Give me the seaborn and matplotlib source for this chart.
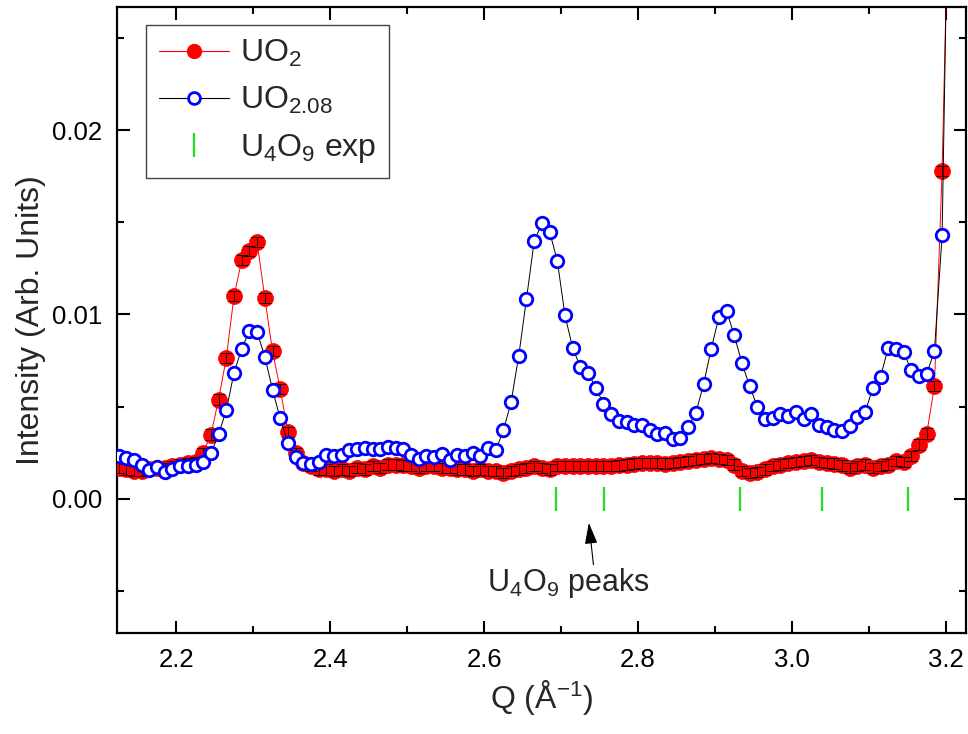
import numpy as np
import matplotlib
matplotlib.use("Agg")
import matplotlib.pyplot as plt
import seaborn as sns
from matplotlib.lines import Line2D
from matplotlib.ticker import MultipleLocator, FormatStrFormatter

# ---------------- data ----------------
q = [2.125, 2.135, 2.145, 2.155, 2.165, 2.175, 2.185, 2.195, 2.205, 2.215,
     2.225, 2.235, 2.245, 2.255, 2.265, 2.275, 2.285, 2.295, 2.305, 2.315,
     2.325, 2.335, 2.345, 2.355, 2.365, 2.375, 2.385, 2.395, 2.405, 2.415,
     2.425, 2.435, 2.445, 2.455, 2.465, 2.475, 2.485, 2.495, 2.505, 2.515,
     2.525, 2.535, 2.545, 2.555, 2.565, 2.575, 2.585, 2.595, 2.605, 2.615,
     2.625, 2.635, 2.645, 2.655, 2.665, 2.675, 2.685, 2.695, 2.705, 2.715,
     2.725, 2.735, 2.745, 2.755, 2.765, 2.775, 2.785, 2.795, 2.805, 2.815,
     2.825, 2.835, 2.845, 2.855, 2.865, 2.875, 2.885, 2.895, 2.905, 2.915,
     2.925, 2.935, 2.945, 2.955, 2.965, 2.975, 2.985, 2.995, 3.005, 3.015,
     3.025, 3.035, 3.045, 3.055, 3.065, 3.075, 3.085, 3.095, 3.105, 3.115,
     3.125, 3.135, 3.145, 3.155, 3.165, 3.175, 3.185, 3.195, 3.205]

uo2 = [0.00167, 0.00158, 0.00149, 0.00149, 0.00158, 0.00167, 0.00167, 0.00176, 0.00185, 0.00194,
       0.0020, 0.00248, 0.00348, 0.00538, 0.00765, 0.0110, 0.01295, 0.01344, 0.01393, 0.0109,
       0.0080, 0.00596, 0.00362, 0.00245, 0.00194, 0.00176, 0.00158, 0.00158, 0.00149, 0.00158,
       0.00149, 0.00167, 0.00158, 0.00176, 0.00167, 0.00185, 0.00185, 0.0018, 0.00176, 0.00167,
       0.00176, 0.00176, 0.00167, 0.00167, 0.00158, 0.00158, 0.00149, 0.00158, 0.00149, 0.00149,
       0.0014, 0.00149, 0.00158, 0.00167, 0.00176, 0.00167, 0.00158, 0.00176, 0.00176, 0.00176,
       0.00176, 0.00176, 0.00176, 0.00176, 0.00176, 0.0018, 0.00185, 0.0019, 0.00194, 0.00194,
       0.00194, 0.0019, 0.00194, 0.00199, 0.00205, 0.00212, 0.00216, 0.00221, 0.00216, 0.00208,
       0.00185, 0.00149, 0.0014, 0.00143, 0.00158, 0.00176, 0.00185, 0.00194, 0.00199, 0.00203,
       0.00208, 0.00199, 0.00194, 0.0019, 0.0018, 0.00167, 0.00176, 0.00185, 0.00167, 0.00176,
       0.00185, 0.00203, 0.00199, 0.0023, 0.00293, 0.00353, 0.0061, 0.0178, 0.036]

uo2_err = 0.00028

uo208 = [0.0023, 0.00221, 0.00208, 0.00181, 0.00154, 0.0017, 0.00143, 0.00161, 0.00176, 0.00176,
         0.00181, 0.0020, 0.00245, 0.00351, 0.0048, 0.00683, 0.00815, 0.0091, 0.00904, 0.0077,
         0.00592, 0.00435, 0.00303, 0.00227, 0.00194, 0.00189, 0.0020, 0.00239, 0.0023, 0.00239,
         0.00266, 0.0027, 0.00275, 0.0027, 0.0027, 0.00281, 0.00275, 0.00268, 0.00239, 0.00216,
         0.00234, 0.00225, 0.00243, 0.00207, 0.00239, 0.00234, 0.00245, 0.0023, 0.00275, 0.00262,
         0.0037, 0.00524, 0.00777, 0.01085, 0.01398, 0.01495, 0.01449, 0.01293, 0.00995, 0.00819,
         0.00714, 0.00683, 0.00602, 0.00516, 0.00457, 0.0042, 0.00415, 0.00402, 0.00397, 0.00375,
         0.00351, 0.00357, 0.00324, 0.00327, 0.00389, 0.00464, 0.0062, 0.00813, 0.00986, 0.01018,
         0.00886, 0.00734, 0.0061, 0.00498, 0.00433, 0.00438, 0.00457, 0.00447, 0.00469, 0.00433,
         0.00462, 0.00397, 0.0039, 0.00371, 0.00366, 0.00393, 0.00444, 0.00469, 0.00602, 0.00661,
         0.00819, 0.0081, 0.00795, 0.00697, 0.00665, 0.00679, 0.008, 0.01429, 0.039]

u4o9_q = [2.693, 2.756, 2.932, 3.039, 3.151]
u4o9_y = [0.0, 0.0, 0.0, 0.0, 0.0]

x_ticks = [2.2, 2.4, 2.6, 2.8, 3.0, 3.2]
y_ticks = [0.00, 0.01, 0.02]

# ---------------- style ----------------
sns.set_style("ticks")
plt.rcParams["font.family"] = ["Liberation Sans", "DejaVu Sans"]
plt.rcParams["mathtext.fontset"] = "custom"
plt.rcParams["mathtext.rm"] = "Liberation Sans"
plt.rcParams["mathtext.it"] = "Liberation Sans:italic"
plt.rcParams["mathtext.bf"] = "Liberation Sans:bold"

fig = plt.figure(figsize=(9.68, 7.34), dpi=100)
ax = fig.add_axes([0.1209, 0.1376, 0.877, 0.8529])

# UO2: red filled circles, thin red line, black error bars
sns.lineplot(x=q, y=uo2, ax=ax, color="red", linewidth=0.7, marker="o",
             markersize=11.5, markeredgecolor="red", markeredgewidth=0.5,
             markerfacecolor="red", sort=False, estimator=None, zorder=3)
ax.errorbar(q, uo2, yerr=uo2_err, fmt="none", ecolor="black",
            elinewidth=0.6, capsize=4.5, capthick=0.6, zorder=4)

# UO2.08: blue open circles, thin black line
sns.lineplot(x=q, y=uo208, ax=ax, color="black", linewidth=0.7, marker="o",
             markersize=9, markeredgecolor="#0000ff", markeredgewidth=2.0,
             markerfacecolor="white", sort=False, estimator=None, zorder=5)

# U4O9 experimental peak positions
ax.plot(u4o9_q, u4o9_y, linestyle="none", marker="|", markersize=17,
        markeredgewidth=1.6, color="#22dd22", zorder=2)

# axes
ax.set_xlim(2.123, 3.226)
ax.set_ylim(-0.0073, 0.0267)
ax.set_xticks(x_ticks)
ax.set_yticks(y_ticks)
ax.xaxis.set_minor_locator(MultipleLocator(0.1))
ax.yaxis.set_minor_locator(MultipleLocator(0.005))
ax.xaxis.set_major_formatter(FormatStrFormatter("%.1f"))
ax.yaxis.set_major_formatter(FormatStrFormatter("%.2f"))
ax.tick_params(which="both", direction="in", top=True, right=True,
               width=1.5, labelsize=18.5, colors="black")
ax.tick_params(which="major", length=9, pad=11)
ax.tick_params(which="minor", length=5)
for s in ax.spines.values():
    s.set_linewidth(1.6)
    s.set_color("black")
    s.set_visible(True)

ax.set_xlabel("Q (Å$^{-1}$)", fontsize=23, labelpad=4)
ax.set_ylabel("Intensity (Arb. Units)", fontsize=23, labelpad=4)

# annotation
ax.annotate("", xy=(2.736, -0.00132), xytext=(2.742, -0.00359),
            arrowprops=dict(arrowstyle="-|>,head_length=1.0,head_width=0.3",
                            color="black", lw=0.8, mutation_scale=13,
                            shrinkA=0, shrinkB=0))
ax.text(2.709, -0.0046, "U$_4$O$_9$ peaks", ha="center", va="center", fontsize=22)

# legend
handles = [
    Line2D([], [], color="red", lw=0.8, marker="o", markersize=10,
           markerfacecolor="red", markeredgecolor="red"),
    Line2D([], [], color="black", lw=0.8, marker="o", markersize=8.5,
           markerfacecolor="white", markeredgecolor="#0000ff", markeredgewidth=2),
    Line2D([], [], linestyle="none", marker="|", markersize=17,
           markeredgewidth=1.6, color="#22dd22"),
]
labels = ["UO$_2$", "UO$_{2.08}$", "U$_4$O$_9$ exp"]
leg = ax.legend(handles, labels, loc="upper left", bbox_to_anchor=(0.034, 0.971),
                fontsize=23, frameon=True, fancybox=False, framealpha=1,
                edgecolor="#444444", handlelength=2.2, handletextpad=0.35,
                labelspacing=0.5, borderpad=0.4, borderaxespad=0)
leg.get_frame().set_linewidth(1.0)

fig.savefig("out.png", dpi=100, facecolor="white")
